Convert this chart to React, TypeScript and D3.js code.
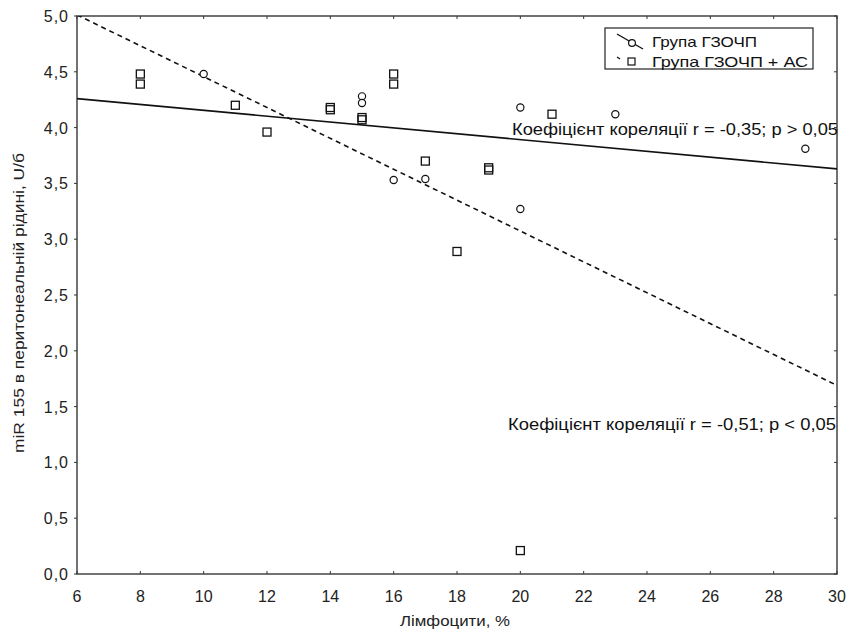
import React, { useEffect, useRef } from 'react';
import * as d3 from 'd3';

// group ГЗОЧП (circles)
const groupAX = [10, 15, 15, 16, 17, 20, 20, 23, 29];
const groupAY = [4.48, 4.28, 4.22, 3.53, 3.54, 4.18, 3.27, 4.12, 3.81];

// group ГЗОЧП + АС (squares)
const groupBX = [8, 8, 11, 12, 14, 14, 15, 15, 16, 16, 17, 18, 19, 19, 20, 21];
const groupBY = [4.48, 4.39, 4.2, 3.96, 4.18, 4.16, 4.09, 4.07, 4.48, 4.39, 3.7, 2.89, 3.64, 3.62, 0.21, 4.12];

// fitted lines
const fitA = [[6, 4.26], [30, 3.63]];
const fitB = [[6, 5.01], [30, 1.69]];

const xTicks = [6, 8, 10, 12, 14, 16, 18, 20, 22, 24, 26, 28, 30];
const yTicks = [0, 0.5, 1, 1.5, 2, 2.5, 3, 3.5, 4, 4.5, 5];

const labelA = 'Коефіцієнт кореляції r = -0,35; p > 0,05';
const labelB = 'Коефіцієнт кореляції r = -0,51; p < 0,05';
const legendNames = ['Група ГЗОЧП', 'Група ГЗОЧП + АС'];
const legendWidths = [105, 156];

const W = 848, H = 634;
const m = { left: 77, right: 11, top: 16, bottom: 60 };
const font = '"Liberation Sans", Arial, sans-serif';

export default function App() {
    const svgRef = useRef<SVGSVGElement>(null);

    useEffect(() => {
        const root = d3.select(svgRef.current);
        root.selectAll('*').remove();

        const x = d3.scaleLinear().domain([6, 30]).range([m.left, W - m.right]);
        const y = d3.scaleLinear().domain([0, 5]).range([H - m.bottom, m.top]);

        root.append('defs').append('clipPath').attr('id', 'plot')
            .append('rect').attr('x', m.left).attr('y', m.top)
            .attr('width', W - m.left - m.right).attr('height', H - m.top - m.bottom);

        // frame
        root.append('rect')
            .attr('x', m.left).attr('y', m.top)
            .attr('width', W - m.left - m.right).attr('height', H - m.top - m.bottom)
            .attr('fill', 'none').attr('stroke', '#444').attr('stroke-width', 1.5);

        // ticks
        const tk = root.append('g').attr('stroke', '#333').attr('stroke-width', 1);
        xTicks.forEach(t => {
            tk.append('line').attr('x1', x(t)).attr('x2', x(t)).attr('y1', y(0)).attr('y2', y(0) - 3);
            tk.append('line').attr('x1', x(t)).attr('x2', x(t)).attr('y1', y(5)).attr('y2', y(5) + 3);
        });
        yTicks.forEach(t => {
            tk.append('line').attr('x1', x(6)).attr('x2', x(6) - 3).attr('y1', y(t)).attr('y2', y(t));
            tk.append('line').attr('x1', x(30)).attr('x2', x(30) - 3).attr('y1', y(t)).attr('y2', y(t));
        });

        root.append('g').selectAll('text').data(xTicks).join('text')
            .attr('x', d => x(d)).attr('y', H - m.bottom + 28)
            .attr('text-anchor', 'middle')
            .style('font', `16px ${font}`).attr('fill', '#222')
            .text(d => String(d));

        root.append('g').selectAll('text').data(yTicks).join('text')
            .attr('x', m.left - 8).attr('y', d => y(d) + 6)
            .attr('text-anchor', 'end')
            .style('font', `16px ${font}`).style('letter-spacing', '1px').attr('fill', '#222')
            .text(d => d.toFixed(1).replace('.', ','));

        root.append('text')
            .attr('x', 455).attr('y', H - 8)
            .attr('text-anchor', 'middle')
            .style('font', `15px ${font}`).attr('fill', '#222')
            .attr('textLength', 110).attr('lengthAdjust', 'spacingAndGlyphs')
            .text('Лімфоцити, %');

        root.append('text')
            .attr('transform', `translate(24, 303) rotate(-90)`)
            .attr('text-anchor', 'middle')
            .style('font', `15px ${font}`).attr('fill', '#222')
            .attr('textLength', 300).attr('lengthAdjust', 'spacingAndGlyphs')
            .text('miR 155 в перитонеальній рідині, U/б');

        const line = d3.line<number[]>().x(d => x(d[0])).y(d => y(d[1]));
        const plot = root.append('g').attr('clip-path', 'url(#plot)');

        plot.append('path').attr('d', line(fitA))
            .attr('fill', 'none').attr('stroke', '#111').attr('stroke-width', 1.6);
        plot.append('path').attr('d', line(fitB))
            .attr('fill', 'none').attr('stroke', '#111').attr('stroke-width', 1.6)
            .attr('stroke-dasharray', '5,4');

        root.append('g').selectAll('circle').data(d3.range(groupAX.length)).join('circle')
            .attr('cx', i => x(groupAX[i])).attr('cy', i => y(groupAY[i])).attr('r', 3.6)
            .attr('fill', 'white').attr('stroke', '#111').attr('stroke-width', 1.2);

        root.append('g').selectAll('rect').data(d3.range(groupBX.length)).join('rect')
            .attr('x', i => x(groupBX[i]) - 4).attr('y', i => y(groupBY[i]) - 4)
            .attr('width', 8).attr('height', 8)
            .attr('fill', 'none').attr('stroke', '#111').attr('stroke-width', 1.3);

        root.append('text')
            .attr('x', 512).attr('y', 135)
            .style('font', `17px ${font}`).attr('fill', '#111')
            .attr('textLength', 326).attr('lengthAdjust', 'spacingAndGlyphs')
            .text(labelA);
        root.append('text')
            .attr('x', 508).attr('y', 430)
            .style('font', `17px ${font}`).attr('fill', '#111')
            .attr('textLength', 328).attr('lengthAdjust', 'spacingAndGlyphs')
            .text(labelB);

        // legend
        const lg = root.append('g');
        lg.append('rect').attr('x', 605).attr('y', 28).attr('width', 208).attr('height', 41)
            .attr('fill', 'white').attr('stroke', '#222').attr('stroke-width', 1.2);
        lg.append('line').attr('x1', 617).attr('y1', 34).attr('x2', 643).attr('y2', 49)
            .attr('stroke', '#111').attr('stroke-width', 1.4);
        lg.append('circle').attr('cx', 632).attr('cy', 43).attr('r', 3.4)
            .attr('fill', 'white').attr('stroke', '#111').attr('stroke-width', 1.2);
        lg.append('line').attr('x1', 617).attr('y1', 57).attr('x2', 620).attr('y2', 59)
            .attr('stroke', '#111').attr('stroke-width', 1.4);
        lg.append('rect').attr('x', 628).attr('y', 58).attr('width', 7).attr('height', 7)
            .attr('fill', 'white').attr('stroke', '#111').attr('stroke-width', 1.2);
        legendNames.forEach((n, i) => {
            lg.append('text').attr('x', 652).attr('y', 47 + i * 20)
                .style('font', `15px ${font}`).attr('fill', '#111')
                .attr('textLength', legendWidths[i]).attr('lengthAdjust', 'spacingAndGlyphs')
                .text(n);
        });
    }, []);

    return <svg ref={svgRef} width={W} height={H} style={{ position: 'absolute', left: 0, top: 0, background: 'white' }} />;
}
